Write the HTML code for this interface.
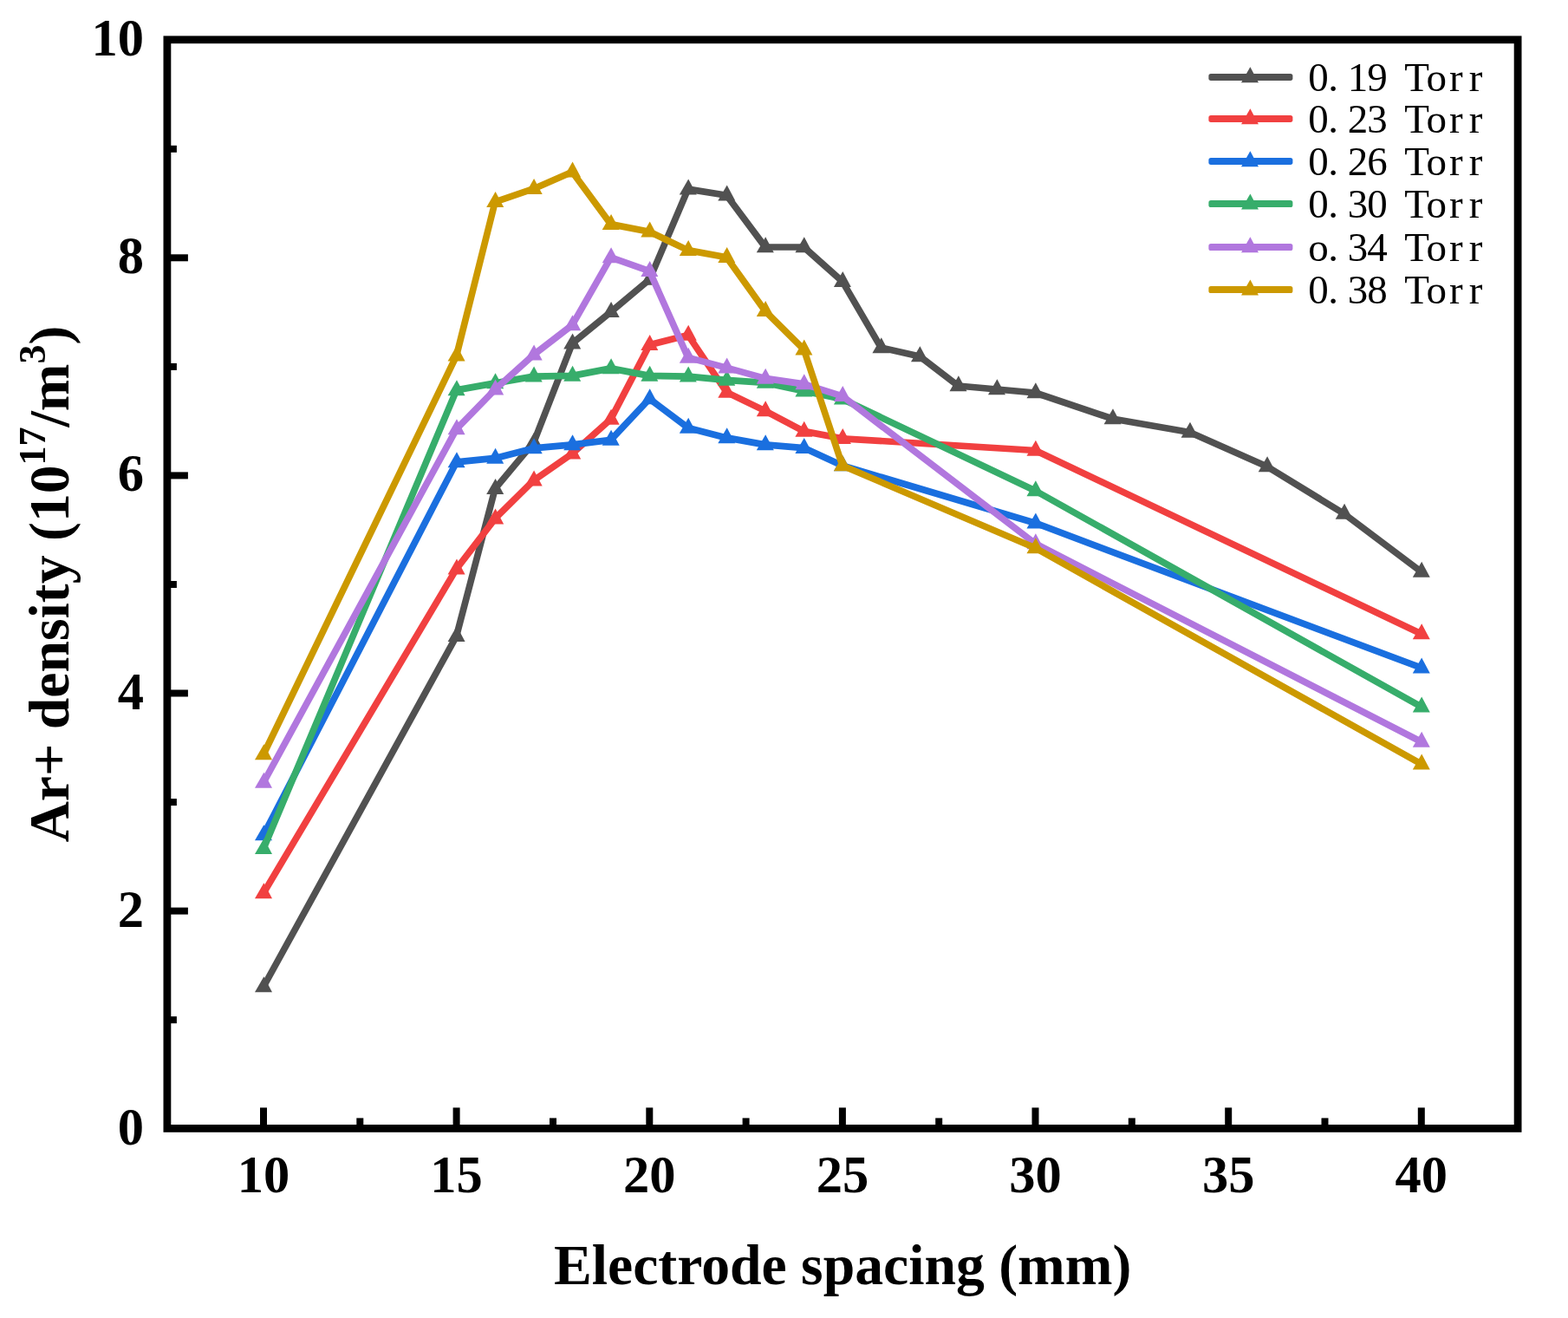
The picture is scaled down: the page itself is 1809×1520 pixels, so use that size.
<!DOCTYPE html>
<html lang="en"><head><meta charset="utf-8"><title>Ar+ density vs electrode spacing</title>
<style>html,body{margin:0;padding:0;background:#fff}body{width:1809px;height:1520px;overflow:hidden}svg{display:block}text{font-family:"Liberation Serif","Noto Serif CJK SC",serif;fill:#000}.b{font-weight:bold}</style></head><body>
<svg width="1809" height="1520" viewBox="0 0 1809 1520">
<rect x="0" y="0" width="1809" height="1520" fill="#fff"/>
<g fill="none" stroke-linejoin="round" stroke-linecap="round">
<polyline points="304.0,1138.0 526.6,733.6 571.2,563.6 615.7,510.4 660.2,396.1 704.7,359.7 749.3,322.4 793.8,218.1 838.3,225.2 882.8,284.9 927.4,285.0 971.9,324.6 1016.4,400.9 1061.0,410.9 1105.5,445.0 1150.0,449.0 1194.5,453.0 1283.6,483.0 1372.6,498.5 1461.7,538.0 1550.7,592.5 1639.8,659.5" stroke="#515151" stroke-width="7.7"/>
<g fill="#515151"><path d="M294.0 1144.3L304.4 1126.3L314.0 1144.3Z"/><path d="M516.6 739.9L527.0 721.9L536.6 739.9Z"/><path d="M561.2 569.9L571.6 551.9L581.2 569.9Z"/><path d="M605.7 516.7L616.1 498.7L625.7 516.7Z"/><path d="M650.2 402.4L660.6 384.4L670.2 402.4Z"/><path d="M694.7 366.0L705.1 348.0L714.7 366.0Z"/><path d="M739.3 328.7L749.7 310.7L759.3 328.7Z"/><path d="M783.8 224.4L794.2 206.4L803.8 224.4Z"/><path d="M828.3 231.5L838.7 213.5L848.3 231.5Z"/><path d="M872.8 291.2L883.2 273.2L892.8 291.2Z"/><path d="M917.4 291.3L927.8 273.3L937.4 291.3Z"/><path d="M961.9 330.9L972.3 312.9L981.9 330.9Z"/><path d="M1006.4 407.2L1016.8 389.2L1026.4 407.2Z"/><path d="M1051.0 417.2L1061.4 399.2L1071.0 417.2Z"/><path d="M1095.5 451.3L1105.9 433.3L1115.5 451.3Z"/><path d="M1140.0 455.3L1150.4 437.3L1160.0 455.3Z"/><path d="M1184.5 459.3L1194.9 441.3L1204.5 459.3Z"/><path d="M1273.6 489.3L1284.0 471.3L1293.6 489.3Z"/><path d="M1362.6 504.8L1373.0 486.8L1382.6 504.8Z"/><path d="M1451.7 544.3L1462.1 526.3L1471.7 544.3Z"/><path d="M1540.7 598.8L1551.1 580.8L1560.7 598.8Z"/><path d="M1629.8 665.8L1640.2 647.8L1649.8 665.8Z"/></g>
<polyline points="304.0,1030.0 526.6,656.1 571.2,598.1 615.7,554.1 660.2,523.1 704.7,483.4 749.3,397.8 793.8,386.4 838.3,452.4 882.8,473.9 927.4,497.4 971.9,505.8 1194.5,519.5 1639.8,731.0" stroke="#F14040" stroke-width="7.7"/>
<g fill="#F14040"><path d="M294.0 1036.3L304.4 1018.3L314.0 1036.3Z"/><path d="M516.6 662.4L527.0 644.4L536.6 662.4Z"/><path d="M561.2 604.4L571.6 586.4L581.2 604.4Z"/><path d="M605.7 560.4L616.1 542.4L625.7 560.4Z"/><path d="M650.2 529.4L660.6 511.4L670.2 529.4Z"/><path d="M694.7 489.7L705.1 471.7L714.7 489.7Z"/><path d="M739.3 404.1L749.7 386.1L759.3 404.1Z"/><path d="M783.8 392.7L794.2 374.7L803.8 392.7Z"/><path d="M828.3 458.7L838.7 440.7L848.3 458.7Z"/><path d="M872.8 480.2L883.2 462.2L892.8 480.2Z"/><path d="M917.4 503.7L927.8 485.7L937.4 503.7Z"/><path d="M961.9 512.0L972.3 494.1L981.9 512.0Z"/><path d="M1184.5 525.8L1194.9 507.8L1204.5 525.8Z"/><path d="M1629.8 737.3L1640.2 719.3L1649.8 737.3Z"/></g>
<polyline points="304.0,963.0 526.6,532.9 571.2,528.4 615.7,516.9 660.2,512.9 704.7,507.4 749.3,459.9 793.8,493.4 838.3,504.9 882.8,512.9 927.4,516.6 971.9,537.0 1194.5,603.2 1639.8,770.2" stroke="#1A6FDF" stroke-width="7.7"/>
<g fill="#1A6FDF"><path d="M294.0 969.3L304.4 951.3L314.0 969.3Z"/><path d="M516.6 539.2L527.0 521.2L536.6 539.2Z"/><path d="M561.2 534.7L571.6 516.7L581.2 534.7Z"/><path d="M605.7 523.2L616.1 505.2L625.7 523.2Z"/><path d="M650.2 519.2L660.6 501.2L670.2 519.2Z"/><path d="M694.7 513.7L705.1 495.7L714.7 513.7Z"/><path d="M739.3 466.2L749.7 448.2L759.3 466.2Z"/><path d="M783.8 499.7L794.2 481.7L803.8 499.7Z"/><path d="M828.3 511.2L838.7 493.2L848.3 511.2Z"/><path d="M872.8 519.2L883.2 501.2L892.8 519.2Z"/><path d="M917.4 522.9L927.8 504.9L937.4 522.9Z"/><path d="M961.9 543.3L972.3 525.3L981.9 543.3Z"/><path d="M1184.5 609.5L1194.9 591.5L1204.5 609.5Z"/><path d="M1629.8 776.5L1640.2 758.5L1649.8 776.5Z"/></g>
<polyline points="304.0,978.7 526.6,449.9 571.2,441.9 615.7,434.1 660.2,433.4 704.7,424.9 749.3,433.4 793.8,434.1 838.3,438.4 882.8,441.4 927.4,451.1 971.9,460.2 1194.5,566.0 1639.8,815.2" stroke="#37AD6B" stroke-width="7.7"/>
<g fill="#37AD6B"><path d="M294.0 985.0L304.4 967.0L314.0 985.0Z"/><path d="M516.6 456.2L527.0 438.2L536.6 456.2Z"/><path d="M561.2 448.2L571.6 430.2L581.2 448.2Z"/><path d="M605.7 440.4L616.1 422.4L625.7 440.4Z"/><path d="M650.2 439.7L660.6 421.7L670.2 439.7Z"/><path d="M694.7 431.2L705.1 413.2L714.7 431.2Z"/><path d="M739.3 439.7L749.7 421.7L759.3 439.7Z"/><path d="M783.8 440.4L794.2 422.4L803.8 440.4Z"/><path d="M828.3 444.7L838.7 426.7L848.3 444.7Z"/><path d="M872.8 447.7L883.2 429.7L892.8 447.7Z"/><path d="M917.4 457.4L927.8 439.4L937.4 457.4Z"/><path d="M961.9 466.6L972.3 448.6L981.9 466.6Z"/><path d="M1184.5 572.3L1194.9 554.3L1204.5 572.3Z"/><path d="M1629.8 821.5L1640.2 803.5L1649.8 821.5Z"/></g>
<polyline points="304.0,902.5 526.6,494.9 571.2,449.1 615.7,409.1 660.2,374.9 704.7,296.9 749.3,312.6 793.8,412.4 838.3,424.1 882.8,436.4 927.4,442.9 971.9,456.8 1194.5,627.0 1639.8,855.5" stroke="#B177DE" stroke-width="7.7"/>
<g fill="#B177DE"><path d="M294.0 908.8L304.4 890.8L314.0 908.8Z"/><path d="M516.6 501.2L527.0 483.2L536.6 501.2Z"/><path d="M561.2 455.4L571.6 437.4L581.2 455.4Z"/><path d="M605.7 415.4L616.1 397.4L625.7 415.4Z"/><path d="M650.2 381.2L660.6 363.2L670.2 381.2Z"/><path d="M694.7 303.2L705.1 285.2L714.7 303.2Z"/><path d="M739.3 318.9L749.7 300.9L759.3 318.9Z"/><path d="M783.8 418.7L794.2 400.7L803.8 418.7Z"/><path d="M828.3 430.4L838.7 412.4L848.3 430.4Z"/><path d="M872.8 442.7L883.2 424.7L892.8 442.7Z"/><path d="M917.4 449.2L927.8 431.2L937.4 449.2Z"/><path d="M961.9 463.1L972.3 445.1L981.9 463.1Z"/><path d="M1184.5 633.3L1194.9 615.3L1204.5 633.3Z"/><path d="M1629.8 861.8L1640.2 843.8L1649.8 861.8Z"/></g>
<polyline points="304.0,870.0 526.6,410.3 571.2,232.8 615.7,217.7 660.2,198.3 704.7,258.6 749.3,267.3 793.8,288.6 838.3,296.7 882.8,358.8 927.4,403.1 971.9,537.0 1194.5,632.0 1639.8,881.2" stroke="#CC9900" stroke-width="7.7"/>
<g fill="#CC9900"><path d="M294.0 876.3L304.4 858.3L314.0 876.3Z"/><path d="M516.6 416.6L527.0 398.6L536.6 416.6Z"/><path d="M561.2 239.1L571.6 221.1L581.2 239.1Z"/><path d="M605.7 224.0L616.1 206.0L625.7 224.0Z"/><path d="M650.2 204.6L660.6 186.6L670.2 204.6Z"/><path d="M694.7 264.9L705.1 246.9L714.7 264.9Z"/><path d="M739.3 273.6L749.7 255.6L759.3 273.6Z"/><path d="M783.8 294.9L794.2 276.9L803.8 294.9Z"/><path d="M828.3 303.0L838.7 285.0L848.3 303.0Z"/><path d="M872.8 365.1L883.2 347.1L892.8 365.1Z"/><path d="M917.4 409.4L927.8 391.4L937.4 409.4Z"/><path d="M961.9 543.3L972.3 525.3L981.9 543.3Z"/><path d="M1184.5 638.3L1194.9 620.3L1204.5 638.3Z"/><path d="M1629.8 887.5L1640.2 869.5L1649.8 887.5Z"/></g>
</g>
<g stroke="#000" fill="none" stroke-width="8.8">
<rect x="192.9" y="45.8" width="1558.2" height="1255.6"/>
</g>
<g stroke="#000" stroke-width="8.0">
<line x1="304.0" y1="1301.4" x2="304.0" y2="1277.4"/>
<line x1="526.6" y1="1301.4" x2="526.6" y2="1277.4"/>
<line x1="749.3" y1="1301.4" x2="749.3" y2="1277.4"/>
<line x1="971.9" y1="1301.4" x2="971.9" y2="1277.4"/>
<line x1="1194.5" y1="1301.4" x2="1194.5" y2="1277.4"/>
<line x1="1417.2" y1="1301.4" x2="1417.2" y2="1277.4"/>
<line x1="1639.8" y1="1301.4" x2="1639.8" y2="1277.4"/>
<line x1="415.3" y1="1301.4" x2="415.3" y2="1289.4"/>
<line x1="638.0" y1="1301.4" x2="638.0" y2="1289.4"/>
<line x1="860.6" y1="1301.4" x2="860.6" y2="1289.4"/>
<line x1="1083.2" y1="1301.4" x2="1083.2" y2="1289.4"/>
<line x1="1305.8" y1="1301.4" x2="1305.8" y2="1289.4"/>
<line x1="1528.5" y1="1301.4" x2="1528.5" y2="1289.4"/>
<line x1="192.9" y1="1050.6" x2="216.9" y2="1050.6"/>
<line x1="192.9" y1="799.5" x2="216.9" y2="799.5"/>
<line x1="192.9" y1="548.4" x2="216.9" y2="548.4"/>
<line x1="192.9" y1="297.3" x2="216.9" y2="297.3"/>
<line x1="192.9" y1="1176.2" x2="203.9" y2="1176.2"/>
<line x1="192.9" y1="925.1" x2="203.9" y2="925.1"/>
<line x1="192.9" y1="674.0" x2="203.9" y2="674.0"/>
<line x1="192.9" y1="422.9" x2="203.9" y2="422.9"/>
<line x1="192.9" y1="171.8" x2="203.9" y2="171.8"/>
</g>
<g class="b" font-size="60.5" text-anchor="middle">
<text x="304.0" y="1374.5">10</text>
<text x="526.6" y="1374.5">15</text>
<text x="749.3" y="1374.5">20</text>
<text x="971.9" y="1374.5">25</text>
<text x="1194.5" y="1374.5">30</text>
<text x="1417.2" y="1374.5">35</text>
<text x="1639.8" y="1374.5">40</text>
</g>
<g class="b" font-size="60.5" text-anchor="end">
<text x="166.0" y="1319.7">0</text>
<text x="166.0" y="1068.6">2</text>
<text x="166.0" y="817.5">4</text>
<text x="166.0" y="566.4">6</text>
<text x="166.0" y="315.3">8</text>
<text x="166.0" y="64.2">10</text>
</g>
<text class="b" font-size="65.7" text-anchor="middle" x="972.2" y="1481">Electrode spacing (mm)</text>
<text class="b" font-size="65.7" text-anchor="middle" transform="translate(79.2 673.6) rotate(-90)">Ar+ density (10<tspan font-size="44" dy="-27">17</tspan><tspan dy="27">/m</tspan><tspan font-size="44" dy="-27">3</tspan><tspan dy="27">)</tspan></text>
<rect x="1394.4" y="84.9" width="97.0" height="8" rx="2.6" fill="#515151"/>
<g fill="#515151"><path d="M1432.0 95.2L1442.4 77.2L1452.0 95.2Z"/></g>
<text font-size="47" text-anchor="middle" x="1521.0 1538.2 1566.4 1589.1 1611.8 1634.5 1657.2 1679.9 1702.6" y="104.7">0.19 Torr</text>
<rect x="1394.4" y="132.9" width="97.0" height="8" rx="2.6" fill="#F14040"/>
<g fill="#F14040"><path d="M1432.0 143.2L1442.4 125.2L1452.0 143.2Z"/></g>
<text font-size="47" text-anchor="middle" x="1521.0 1538.2 1566.4 1589.1 1611.8 1634.5 1657.2 1679.9 1702.6" y="152.7">0.23 Torr</text>
<rect x="1394.4" y="181.9" width="97.0" height="8" rx="2.6" fill="#1A6FDF"/>
<g fill="#1A6FDF"><path d="M1432.0 192.2L1442.4 174.2L1452.0 192.2Z"/></g>
<text font-size="47" text-anchor="middle" x="1521.0 1538.2 1566.4 1589.1 1611.8 1634.5 1657.2 1679.9 1702.6" y="201.7">0.26 Torr</text>
<rect x="1394.4" y="231.1" width="97.0" height="8" rx="2.6" fill="#37AD6B"/>
<g fill="#37AD6B"><path d="M1432.0 241.4L1442.4 223.4L1452.0 241.4Z"/></g>
<text font-size="47" text-anchor="middle" x="1521.0 1538.2 1566.4 1589.1 1611.8 1634.5 1657.2 1679.9 1702.6" y="250.9">0.30 Torr</text>
<rect x="1394.4" y="281.0" width="97.0" height="8" rx="2.6" fill="#B177DE"/>
<g fill="#B177DE"><path d="M1432.0 291.3L1442.4 273.3L1452.0 291.3Z"/></g>
<text font-size="47" text-anchor="middle" x="1521.0 1538.2 1566.4 1589.1 1611.8 1634.5 1657.2 1679.9 1702.6" y="300.8">o.34 Torr</text>
<rect x="1394.4" y="330.1" width="97.0" height="8" rx="2.6" fill="#CC9900"/>
<g fill="#CC9900"><path d="M1432.0 340.4L1442.4 322.4L1452.0 340.4Z"/></g>
<text font-size="47" text-anchor="middle" x="1521.0 1538.2 1566.4 1589.1 1611.8 1634.5 1657.2 1679.9 1702.6" y="349.9">0.38 Torr</text>
</svg></body></html>
